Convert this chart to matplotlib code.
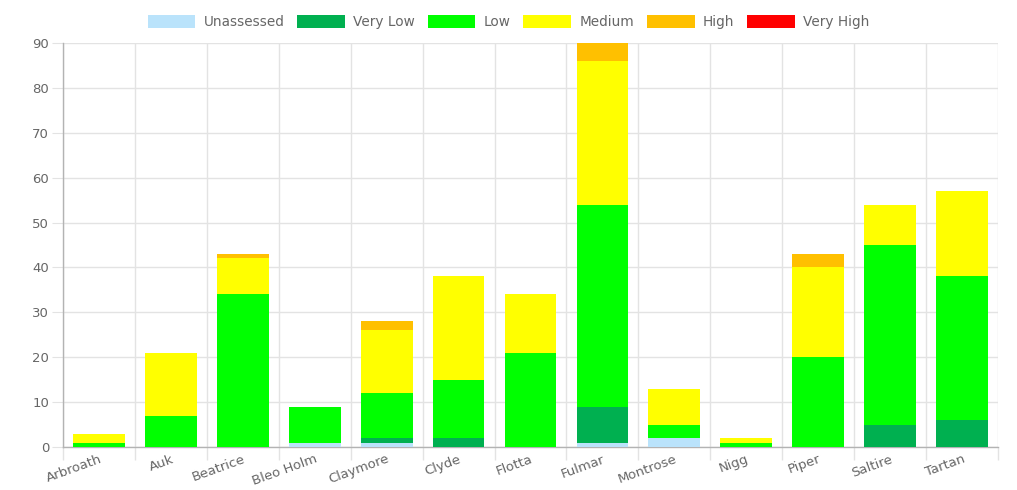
import numpy as np
import matplotlib.pyplot as plt

sites = ["Arbroath", "Auk", "Beatrice", "Bleo Holm", "Claymore", "Clyde", "Flotta",
         "Fulmar", "Montrose", "Nigg", "Piper", "Saltire", "Tartan"]

unassessed = [0, 0, 0, 1, 1, 0, 0, 1, 2, 0, 0, 0, 0]
very_low = [0, 0, 0, 0, 1, 2, 0, 8, 0, 0, 0, 5, 6]
low = [1, 7, 34, 8, 10, 13, 21, 45, 3, 1, 20, 40, 32]
medium = [2, 14, 8, 0, 14, 23, 13, 32, 8, 1, 20, 9, 19]
high = [0, 0, 1, 0, 2, 0, 0, 4, 0, 0, 3, 0, 0]
very_high = [0, 0, 0, 0, 0, 0, 0, 0, 0, 0, 0, 0, 0]

series = [
    ("Unassessed", unassessed, "#bae3fb"),
    ("Very Low", very_low, "#00b050"),
    ("Low", low, "#00ff00"),
    ("Medium", medium, "#ffff00"),
    ("High", high, "#ffc000"),
    ("Very High", very_high, "#ff0000"),
]

text_col = "#666666"
grid_col = "#e3e3e3"

fig = plt.figure(figsize=(10.17, 4.9), dpi=100)
ax = fig.add_axes([63 / 1017, 43 / 490, (998 - 63) / 1017, (447 - 43) / 490])

x = np.arange(len(sites))
bottom = np.zeros(len(sites))
for name, vals, col in series:
    vals = np.array(vals, dtype=float)
    ax.bar(x, vals, width=0.72, bottom=bottom, color=col, label=name,
           edgecolor=col, linewidth=0, zorder=3)
    bottom += vals

ax.set_xlim(-0.5, len(sites) - 0.5)
ax.set_ylim(0, 90)
ax.set_yticks(np.arange(0, 91, 10))
ax.set_xticks(x)
ax.set_xticklabels(sites, rotation=20, ha="right", rotation_mode="anchor",
                   fontsize=9.5, color=text_col)
ax.set_xticks(np.arange(-0.5, len(sites)), minor=True)
ax.tick_params(axis="x", which="major", length=0, pad=4)
ax.tick_params(axis="x", which="minor", length=9, color=grid_col, width=1)
ax.tick_params(axis="y", length=8, color=grid_col, labelsize=9.5,
               labelcolor=text_col, pad=2)

ax.grid(axis="y", color=grid_col, linewidth=1, zorder=0)
ax.grid(axis="x", which="minor", color=grid_col, linewidth=1, zorder=0)
for s in ["top", "right"]:
    ax.spines[s].set_visible(False)
for s in ["left", "bottom"]:
    ax.spines[s].set_color("#b3b3b3")
    ax.spines[s].set_linewidth(1)

fig.legend(loc="upper center", bbox_to_anchor=(0.5, 0.995), ncol=6, frameon=False,
           fontsize=9.8, labelcolor=text_col, handlelength=3.5, handleheight=1.1,
           columnspacing=0.95, handletextpad=0.6)

plt.savefig("out.png", dpi=100)
